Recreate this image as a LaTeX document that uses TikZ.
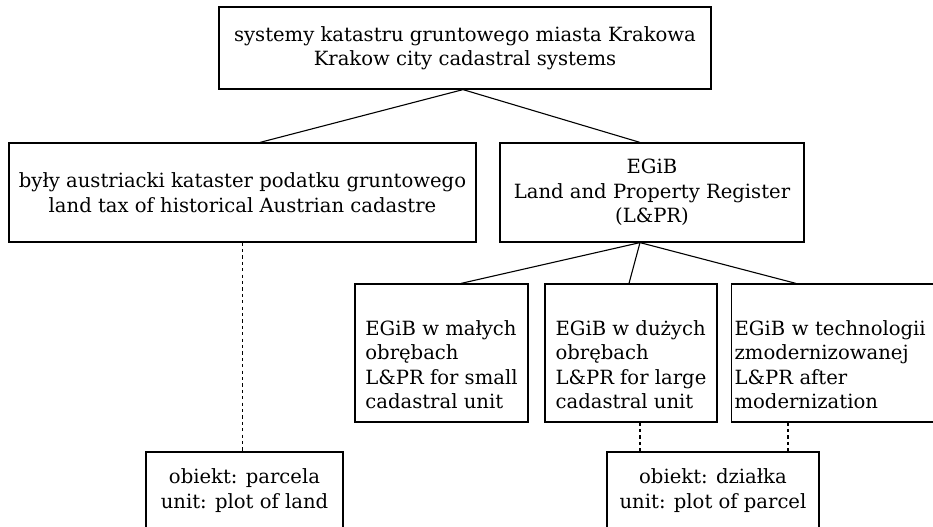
\documentclass[tikz,border=0pt]{standalone}
\usepackage{fontspec}
\setmainfont{DejaVu Serif}
\begin{document}
\begin{tikzpicture}[x=0.5pt,y=-0.5pt,
  box/.style={draw, line width=0.6pt, inner sep=0pt, align=center,
    font=\fontsize{9.8}{12.25}\selectfont},
  childbox/.style={box, align=left, minimum height=69pt},
  link/.style={line width=0.55pt},
  dotlink/.style={line width=0.55pt, dash pattern=on 1.6pt off 1.6pt}]
\useasboundingbox (0,0) rectangle (933,526);
\clip (0,0) rectangle (933,526);
\fill[white] (0,0) rectangle (933,526);

\node[box, minimum width=246pt, minimum height=41pt] (T) at (465,48)
  {systemy katastru gruntowego miasta Krakowa\\Krakow city cadastral systems};
\node[box, minimum width=233.5pt, minimum height=49.5pt] (L) at (242.5,192.5)
  {były austriacki kataster podatku gruntowego\\land tax of historical Austrian cadastre};
\node[box, minimum width=152pt, minimum height=49.5pt] (E) at (652,192.5)
  {EGiB\\Land and Property Register\\(L\&PR)};

\node[childbox, minimum width=86.5pt] (C1) at (441.5,353)
  {\rule{0pt}{19pt}EGiB w małych\\obrębach\\L\&PR for small\\cadastral unit};
\node[childbox, minimum width=86pt] (C2) at (631,353)
  {\rule{0pt}{19pt}EGiB w dużych\\obrębach\\L\&PR for large\\cadastral unit};
\node[childbox, anchor=west, text width=110pt, inner xsep=1.5pt] (C3) at (731,353)
  {\rule{0pt}{19pt}EGiB w technologii\\zmodernizowanej\\L\&PR after\\modernization};

\node[box, minimum width=98.5pt, minimum height=38.5pt] (B1) at (244.5,490.5)
  {obiekt: parcela\\unit: plot of land};
\node[box, minimum width=106pt, minimum height=38.5pt] (B2) at (713,490.5)
  {obiekt: działka\\unit: plot of parcel};

\draw[link] ([xshift=-1pt]T.south) -- ([xshift=8.75pt]L.north);
\draw[link] ([xshift=-1pt]T.south) -- ([xshift=-6pt]E.north);
\draw[link] ([xshift=-6pt]E.south) -- ([xshift=9.75pt]C1.north);
\draw[link] ([xshift=-6pt]E.south) -- ([xshift=-1pt]C2.north);
\draw[link] ([xshift=-6pt]E.south) -- ([xshift=32.5pt]C3.north west);

\draw[dotlink] (L.south) -- (L.south |- B1.north);
\draw[dotlink] ([xshift=4.5pt]C2.south) coordinate (d1) -- (d1 |- B2.north);
\draw[dotlink] ([xshift=28.5pt]C3.south west) coordinate (d2) -- (d2 |- B2.north);
\end{tikzpicture}
\end{document}
